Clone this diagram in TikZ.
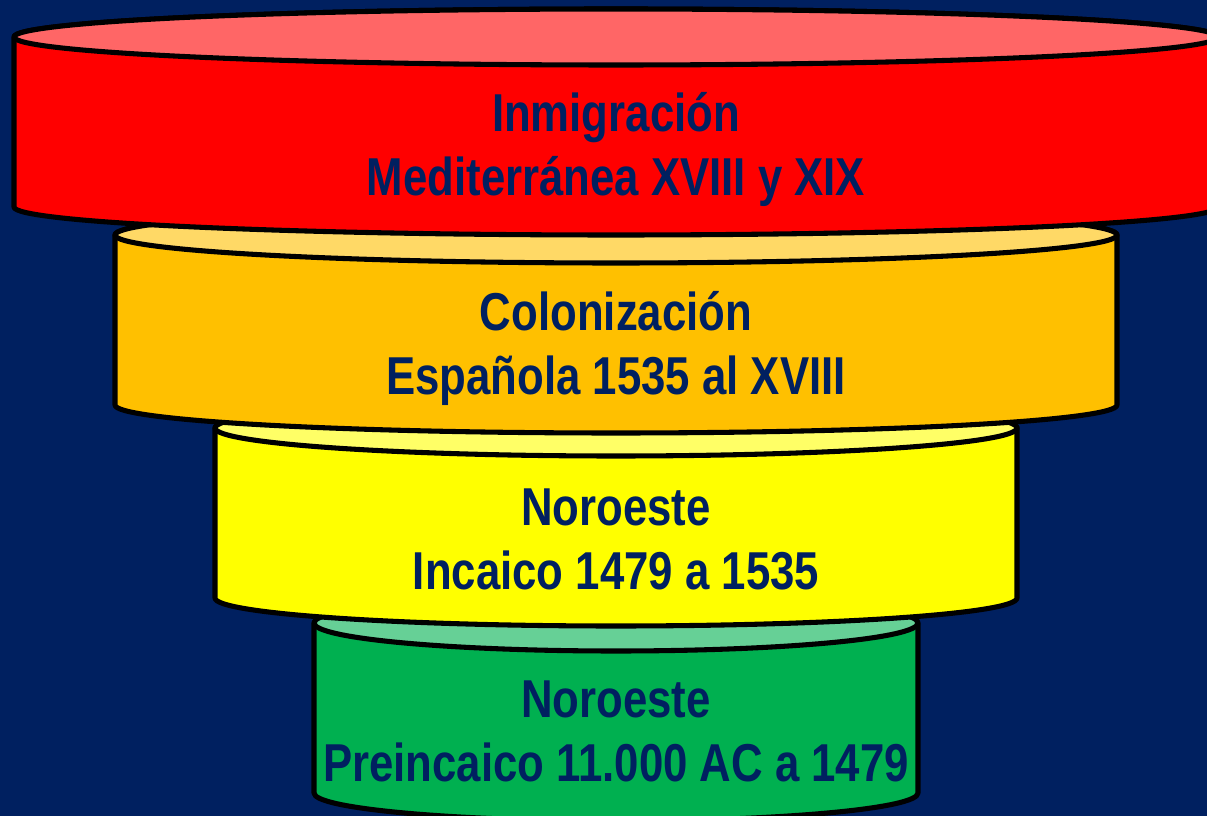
\documentclass[tikz,border=0pt]{standalone}
\usepackage{fontspec}
\newfontfamily\bandfont[FakeStretch=0.82]{Liberation Sans}
\definecolor{fondo}{HTML}{002060}
\definecolor{rojo}{HTML}{FF0000}
\definecolor{rojotapa}{HTML}{FF6666}
\definecolor{naranja}{HTML}{FFC000}
\definecolor{naranjatapa}{HTML}{FFD966}
\definecolor{amarillo}{HTML}{FFFF00}
\definecolor{amarillotapa}{HTML}{FFFF66}
\definecolor{verde}{HTML}{00B050}
\definecolor{verdetapa}{HTML}{66D096}
\begin{document}
\begin{tikzpicture}[x=0.75pt,y=0.75pt,
    borde/.style={draw=black,line width=3.8pt,line join=round},
    texto/.style={text=fondo,font=\bandfont\bfseries\fontsize{40}{48}\selectfont,inner sep=0pt,anchor=base}]
\fill[fondo] (0,0) rectangle (1207,-816);
\useasboundingbox (0,0) rectangle (1207,-816);
\clip (0,0) rectangle (1207,-816);
% verde
\filldraw[borde,fill=verde] (314,-623) -- (314,-793) arc[start angle=180,end angle=360,x radius=302,y radius=28] -- (918,-623) arc[start angle=0,end angle=180,x radius=302,y radius=28] -- cycle;
\filldraw[borde,fill=verdetapa] (616,-623) ellipse[x radius=302,y radius=28];
% amarillo
\filldraw[borde,fill=amarillo] (215,-428) -- (215,-598) arc[start angle=180,end angle=360,x radius=401,y radius=28] -- (1017,-428) arc[start angle=0,end angle=180,x radius=401,y radius=28] -- cycle;
\filldraw[borde,fill=amarillotapa] (616,-428) ellipse[x radius=401,y radius=28];
% naranja
\filldraw[borde,fill=naranja] (115,-235) -- (115,-405) arc[start angle=180,end angle=360,x radius=501,y radius=28] -- (1117,-235) arc[start angle=0,end angle=180,x radius=501,y radius=28] -- cycle;
\filldraw[borde,fill=naranjatapa] (616,-235) ellipse[x radius=501,y radius=28];
% rojo
\filldraw[borde,fill=rojo] (14,-37) -- (14,-207) arc[start angle=180,end angle=360,x radius=602,y radius=28] -- (1218,-37) arc[start angle=0,end angle=180,x radius=602,y radius=28] -- cycle;
\filldraw[borde,fill=rojotapa] (616,-37) ellipse[x radius=602,y radius=28];
% textos
\node[texto] (inmigracion) at (616,-132) {Inmigración};
\node[texto] (mediterranea) at (616,-196) {Mediterránea XVIII y XIX};
\node[texto] (colonizacion) at (616,-331) {Colonización};
\node[texto] (espanola) at (616,-395) {Española 1535 al XVIII};
\node[texto] (noroeste1) at (616,-526) {Noroeste};
\node[texto] (incaico) at (616,-589) {Incaico 1479 a 1535};
\node[texto] (noroeste2) at (616,-717) {Noroeste};
\node[texto] (preincaico) at (616,-781) {Preincaico 11.000 AC a 1479};
\end{tikzpicture}
\end{document}
